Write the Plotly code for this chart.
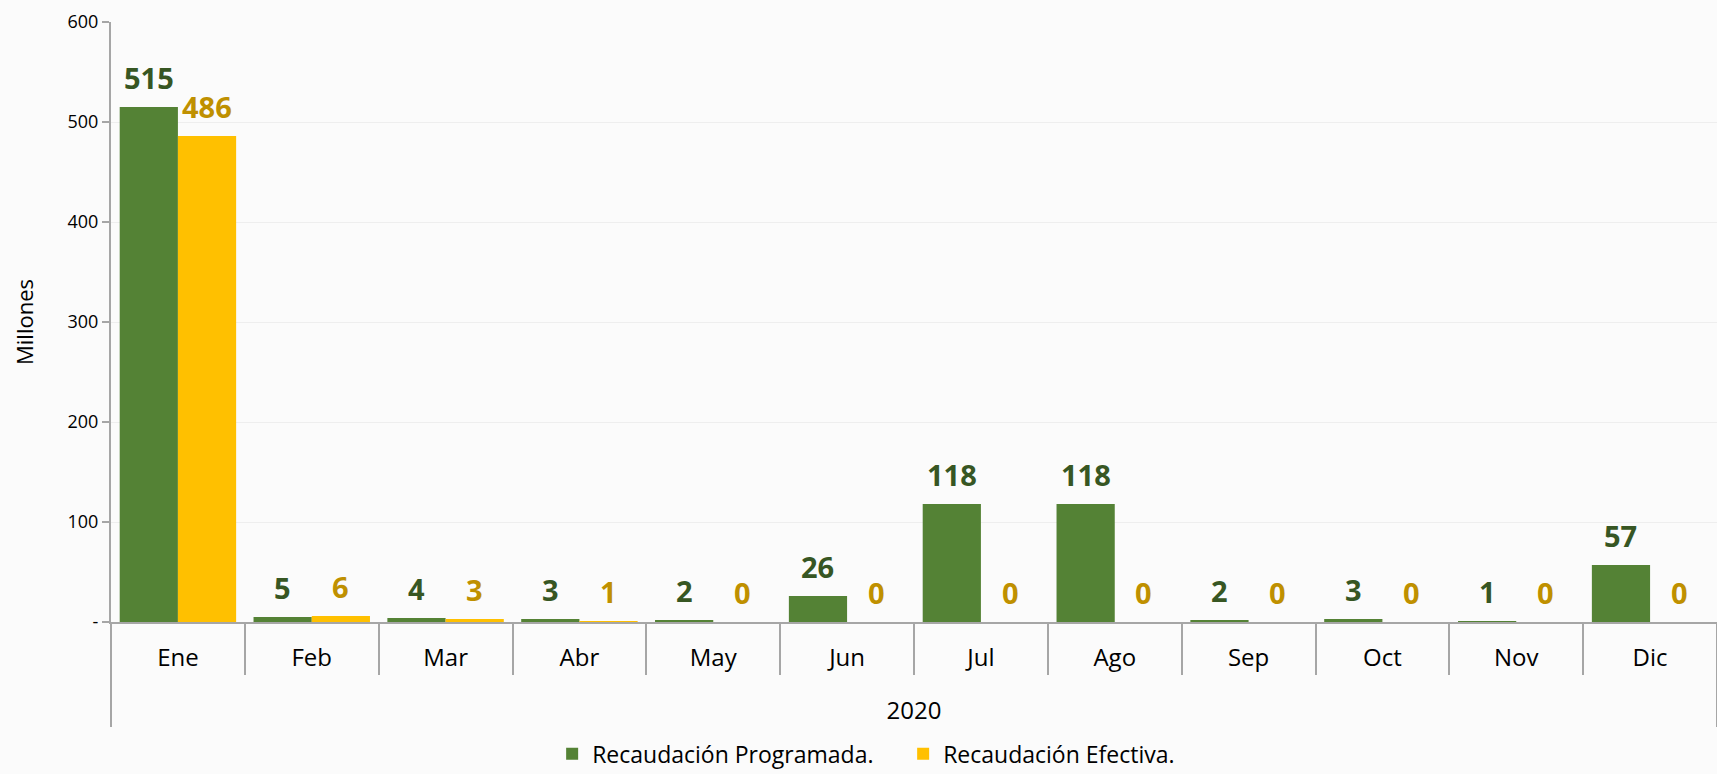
import plotly.graph_objects as go

year = "2020"
months = ["Ene", "Feb", "Mar", "Abr", "May", "Jun", "Jul", "Ago", "Sep", "Oct", "Nov", "Dic"]
programada = [515, 5, 4, 3, 2, 26, 118, 118, 2, 3, 1, 57]
efectiva = [486, 6, 3, 1, 0, 0, 0, 0, 0, 0, 0, 0]
y_tickvals = [0, 100, 200, 300, 400, 500, 600]
y_ticktext = ["-", "100", "200", "300", "400", "500", "600"]

GREEN = "#548235"
YELLOW = "#FFC000"
GREEN_TXT = "#375623"
GOLD_TXT = "#BF9000"
FONT = "Open Sans"
BARGAP = 0.13

x_multi = [["<br>" + year] * len(months), months]

fig = go.Figure()
fig.add_trace(go.Bar(x=x_multi, y=programada, name="Recaudación Programada.",
                     marker=dict(color=GREEN, line=dict(width=0))))
fig.add_trace(go.Bar(x=x_multi, y=efectiva, name="Recaudación Efectiva.",
                     marker=dict(color=YELLOW, line=dict(width=0))))

half = (1 - BARGAP) / 4
annotations = []
for i, (p, e) in enumerate(zip(programada, efectiva)):
    annotations.append(dict(x=i - half, y=p, xref="x", yref="y", text=f"<b>{p}</b>",
                            showarrow=False, yanchor="middle", yshift=30,
                            font=dict(family=FONT, size=29, color=GREEN_TXT)))
    annotations.append(dict(x=i + half, y=e, xref="x", yref="y", text=f"<b>{e}</b>",
                            showarrow=False, yanchor="middle", yshift=30,
                            font=dict(family=FONT, size=29, color=GOLD_TXT)))

fig.update_layout(
    width=1717, height=774,
    margin=dict(l=111, r=0, t=22, b=152, autoexpand=False),
    barmode="group", bargap=BARGAP, bargroupgap=0,
    paper_bgcolor="#FBFBFB", plot_bgcolor="#FBFBFB",
    font=dict(family=FONT, size=18, color="#000000"),
    showlegend=True,
    legend=dict(orientation="h", xref="container", yref="container",
                x=0.526, xanchor="center", y=0.026, yanchor="middle",
                entrywidth=306, entrywidthmode="pixels",
                font=dict(size=23, color="#000000"), bgcolor="rgba(0,0,0,0)"),
    annotations=annotations,
)
fig.update_xaxes(
    type="multicategory",
    showline=True, linecolor="#A6A6A6", linewidth=2,
    ticks="outside", tickson="boundaries", ticklen=51, tickcolor="#A6A6A6", tickwidth=2,
    ticklabelstandoff=13,
    showdividers=True, dividercolor="#A6A6A6", dividerwidth=2,
    tickfont=dict(size=24, color="#000000"),
    showgrid=False,
)
fig.update_yaxes(
    range=[0, 600], tickvals=y_tickvals, ticktext=y_ticktext,
    showline=True, linecolor="#A6A6A6", linewidth=2,
    ticks="outside", ticklen=7, tickcolor="#A6A6A6", tickwidth=2,
    showgrid=True, gridcolor="#EEEEEE", gridwidth=1,
    zeroline=False,
    tickfont=dict(size=18, color="#000000"),
    title=dict(text="Millones", font=dict(size=22, color="#000000"), standoff=28),
)

fig.write_html(
    "out.html",
    config={"displayModeBar": False},
    post_script="document.body.style.margin='0';document.body.style.overflow='hidden';",
)
